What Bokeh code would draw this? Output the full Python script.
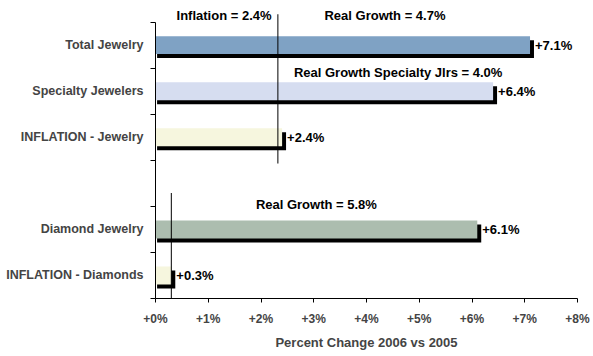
from bokeh.plotting import figure
from bokeh.models import FixedTicker, ColumnDataSource, Range1d
from bokeh.core.properties import value
from bokeh.embed import file_html
from bokeh.resources import INLINE

# ---- data ----
categories = ["Total Jewelry", "Specialty Jewelers", "INFLATION - Jewelry",
              "Diamond Jewelry", "INFLATION - Diamonds"]
pct_change = [7.1, 6.4, 2.4, 6.1, 0.3]
value_labels = ["+7.1%", "+6.4%", "+2.4%", "+6.1%", "+0.3%"]
bar_colors = ["#7fa2c4", "#d6ddf0", "#f6f6de", "#acbdaf", "#f6f6de"]
# slot centres (top to bottom, slot 2.5 left empty as a gap)
slot_pos = [5.5, 4.5, 3.5, 1.5, 0.5]
x_ticks = [0, 1, 2, 3, 4, 5, 6, 7, 8]
x_tick_labels = ["+0%", "+1%", "+2%", "+3%", "+4%", "+5%", "+6%", "+7%", "+8%"]

inflation_jewelry = 2.32
inflation_diamonds = 0.3
notes = ["Inflation = 2.4%", "Real Growth = 4.7%",
         "Real Growth Specialty Jlrs = 4.0%", "Real Growth = 5.8%"]
note_x = [2.2, 4.35, 4.6, 3.05]
note_y = [6.15, 6.15, 4.9, 2.05]
note_align = ["right", "center", "center", "center"]

FONT = "Liberation Sans"

p = figure(width=593, height=356, output_backend="svg", toolbar_location=None,
           x_range=Range1d(0, 8), y_range=Range1d(0, 6.36),
           min_border_left=155, min_border_right=16, min_border_top=5,
           min_border_bottom=58)
p.outline_line_color = None
p.xgrid.visible = False
p.ygrid.visible = False
p.background_fill_color = "white"

bar_h = 0.39
shadow = ColumnDataSource(dict(y=[v - 0.087 for v in slot_pos],
                               left=[0.03] * len(pct_change),
                               right=[v + 0.075 for v in pct_change]))
p.hbar(y="y", left="left", right="right", height=bar_h, source=shadow,
       fill_color="black", line_color=None)
bars = ColumnDataSource(dict(y=slot_pos, right=pct_change, color=bar_colors,
                             lab=value_labels))
p.hbar(y="y", left=0, right="right", height=bar_h, source=bars,
       fill_color="color", line_color=None)

p.text(x="right", y="y", text="lab", source=bars, x_offset=5,
       text_align="left", text_baseline="middle", text_font=value(FONT),
       text_font_style="bold", text_font_size="13px", text_color="black")

# inflation reference lines
p.segment(x0=[inflation_jewelry, inflation_diamonds], y0=[2.93, 0],
          x1=[inflation_jewelry, inflation_diamonds], y1=[6.17, 2.29],
          line_color="black", line_width=1)

p.text(x=note_x, y=note_y, text=notes, text_align=note_align,
       text_baseline="middle", text_font=value(FONT), text_font_style="bold",
       text_font_size="13px", text_color="black")

# x axis
xa = p.xaxis[0]
xa.ticker = FixedTicker(ticks=x_ticks)
xa.major_label_overrides = {t: l for t, l in zip(x_ticks, x_tick_labels)}
xa.minor_tick_line_color = None
xa.major_tick_in = 0
xa.major_tick_out = 4
xa.major_label_standoff = 9
xa.axis_label = "Percent Change 2006 vs 2005"
xa.axis_label_standoff = 6
xa.axis_label_text_font = FONT
xa.axis_label_text_font_style = "bold"
xa.axis_label_text_font_size = "13px"
xa.major_label_text_font = FONT
xa.major_label_text_font_style = "bold"
xa.major_label_text_font_size = "12px"
xa.axis_line_color = "black"

# y axis: labels at slot centres, tick marks at slot boundaries
ya = p.yaxis[0]
ya.ticker = FixedTicker(ticks=slot_pos, minor_ticks=[0, 1, 2, 3, 4, 5, 6])
ya.major_label_overrides = {t: c for t, c in zip(slot_pos, categories)}
ya.major_tick_in = 0
ya.major_tick_out = 0
ya.minor_tick_in = 0
ya.minor_tick_out = 5
ya.minor_tick_line_color = "black"
ya.bounds = (0, 6)
ya.major_label_standoff = 7
ya.major_label_text_font = FONT
ya.major_label_text_font_style = "bold"
ya.major_label_text_font_size = "12.5px"
ya.axis_line_color = "black"

open("out.html", "w").write(file_html(p, INLINE))
